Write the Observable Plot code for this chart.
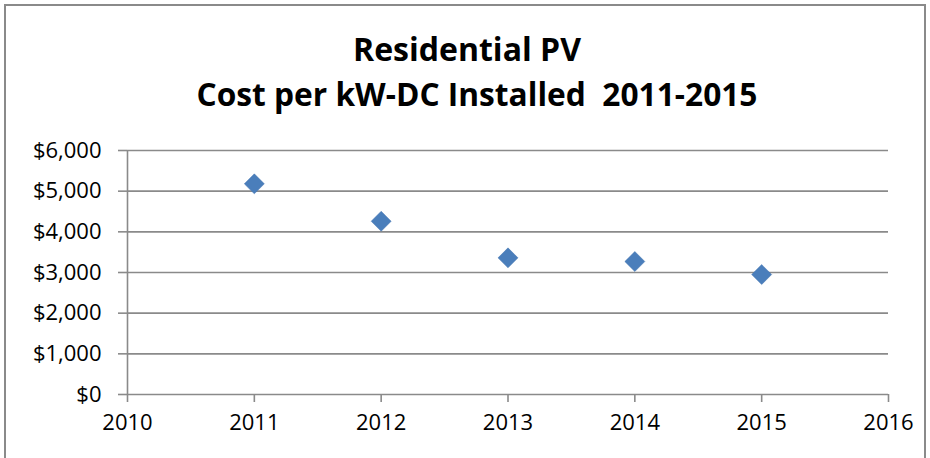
<!DOCTYPE html>
<html>
<head>
<meta charset="utf-8">
<script src="https://cdn.jsdelivr.net/npm/d3@7"></script>
<script src="https://cdn.jsdelivr.net/npm/@observablehq/plot@0.6"></script>
<style>
  html, body { margin: 0; padding: 0; background: #fff; width: 930px; height: 458px; overflow: hidden; }
  #frame { position: absolute; left: 4px; top: 4px; width: 918px; height: 470px; border: 2px solid #8a8a8a; background: #fff; }
  #title { height: 120px; box-sizing: border-box; padding-top: 20px; text-align: center; font-family: "Open Sans", sans-serif; font-weight: 700; font-size: 32px; line-height: 45px; color: #000; white-space: nowrap; }
  #title .l1 { position: relative; left: 2px; }
  #title .l2 { position: relative; left: 12px; font-size: 31.7px; }
  #chart svg { display: block; }
</style>
</head>
<body>
<div id="frame">
  <div id="title"><div class="l1">Residential PV</div><div class="l2">Cost per kW-DC Installed&nbsp; 2011-2015</div></div>
  <div id="chart"></div>
</div>
<script>
const years = [2011, 2012, 2013, 2014, 2015];
const costs = [5180, 4260, 3360, 3270, 2950];
const yTicks = [0, 1000, 2000, 3000, 4000, 5000, 6000];
const xTicks = [2010, 2011, 2012, 2013, 2014, 2015, 2016];

const data = years.map((y, i) => ({year: y, cost: costs[i]}));
const grid = "#8a8a8a";

const chart = Plot.plot({
  width: 918,
  height: 332,
  marginTop: 24,
  marginBottom: 64,
  marginLeft: 121,
  marginRight: 36,
  style: { fontFamily: "Open Sans, sans-serif", fontSize: "22px", color: "#000", background: "#fff" },
  x: { domain: [2010, 2016] },
  y: { domain: [0, 6000] },
  marks: [
    Plot.ruleY(yTicks, { stroke: grid, strokeWidth: 1.6 }),
    Plot.ruleX([2010], { stroke: grid, strokeWidth: 1.6 }),
    Plot.axisY({ ticks: yTicks, tickFormat: d3.format("$,"), tickSize: 9, tickPadding: 17, stroke: grid, strokeWidth: 1.6, label: null, fill: "#000" }),
    Plot.axisX({ ticks: xTicks, tickFormat: d => String(d), tickSize: 8, tickPadding: 12, stroke: grid, strokeWidth: 1.6, label: null, fill: "#000" }),
    Plot.dot(data, { x: "year", y: "cost", symbol: "diamond2", r: 9, fill: "#4a7ebb", stroke: "#4575b0", strokeWidth: 0.5 })
  ]
});
document.getElementById("chart").appendChild(chart);
</script>
</body>
</html>
